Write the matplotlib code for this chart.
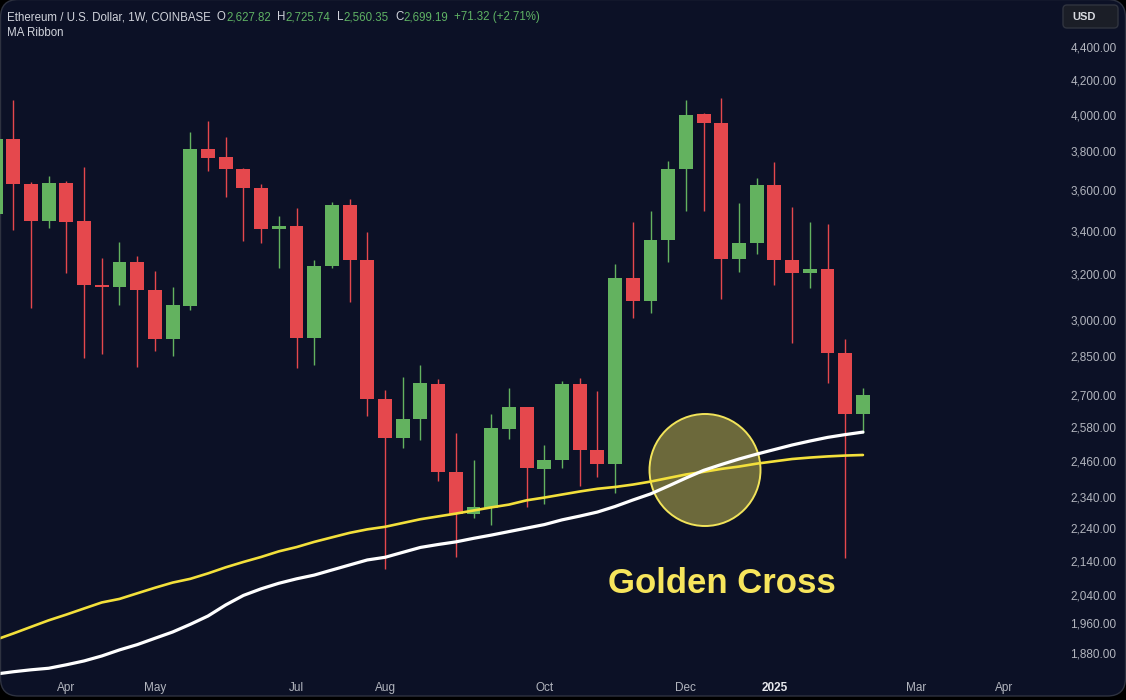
import datetime as dt
import matplotlib
matplotlib.use("Agg")
import matplotlib.pyplot as plt
import matplotlib.dates as mdates
from matplotlib.patches import FancyBboxPatch, Ellipse
from matplotlib.ticker import FixedLocator, NullLocator, NullFormatter
from matplotlib.transforms import IdentityTransform

# weekly ETH/USD candles, first week starts 2024-03-04
first_week = dt.date(2024, 3, 4)
week_open = [3481, 3868, 3632, 3445, 3637, 3445, 3150, 3140, 3256, 3128,
             2919, 3061, 3812, 3768, 3707, 3612, 3409, 3422, 2923, 3237,
             3527, 3262, 2684, 2541, 2609, 2742, 2423, 2286, 2305, 2575,
             2654, 2433, 2465, 2742, 2499, 2452, 3180, 3079, 3356, 3709,
             4003, 3953, 3270, 3342, 3625, 3261, 3206, 3224, 2865, 2627.82]
week_high = [4090, 4085, 3640, 3670, 3645, 3720, 3273, 3348, 3282, 3213,
             3143, 3905, 3966, 3878, 3712, 3630, 3470, 3512, 3262, 3539,
             3555, 3394, 2719, 2768, 2816, 2760, 2558, 2465, 2629, 2728,
             2656, 2517, 2753, 2764, 2716, 3244, 3440, 3493, 3751, 4085,
             4010, 4094, 3533, 3663, 3745, 3517, 3440, 3432, 2919, 2725.74]
week_low = [3360, 3403, 3049, 3411, 3204, 2845, 2860, 3064, 2810, 2873,
            2853, 3042, 3699, 3566, 3351, 3344, 3228, 2806, 2816, 3228,
            3076, 2622, 2116, 2505, 2535, 2394, 2151, 2271, 2250, 2538,
            2308, 2318, 2437, 2377, 2406, 2352, 3007, 3028, 3253, 3495,
            3493, 3089, 3210, 3290, 3150, 2906, 3136, 2747, 2148, 2560.35]
week_close = [3868, 3628, 3445, 3637, 3443, 3150, 3140, 3256, 3127, 2919,
              3064, 3812, 3767, 3707, 3612, 3409, 3422, 2923, 3237, 3527,
              3262, 2684, 2541, 2609, 2744, 2423, 2286, 2307, 2577, 2654,
              2436, 2465, 2742, 2499, 2452, 3180, 3079, 3356, 3709, 4000,
              3953, 3270, 3342, 3625, 3261, 3203, 3224, 2865, 2627.87, 2699.19]

# MA ribbon lines (one value per week)
ma_fast = [1825, 1831, 1836, 1840, 1849, 1859, 1872, 1888, 1902, 1919,
           1936, 1957, 1980, 2011, 2038, 2057, 2073, 2086, 2097, 2112,
           2127, 2142, 2150, 2165, 2180, 2189, 2197, 2208, 2218, 2229,
           2240, 2251, 2266, 2278, 2291, 2309, 2330, 2350, 2376, 2403,
           2429, 2449, 2468, 2485, 2501, 2517, 2531, 2544, 2554, 2563]
ma_slow = [1915, 1932, 1950, 1968, 1984, 2001, 2018, 2028, 2044, 2060,
           2075, 2086, 2102, 2120, 2136, 2151, 2168, 2181, 2197, 2211,
           2225, 2236, 2244, 2256, 2268, 2277, 2286, 2296, 2306, 2315,
           2329, 2338, 2348, 2358, 2367, 2373, 2381, 2391, 2403, 2415,
           2424, 2434, 2442, 2452, 2460, 2468, 2473, 2477, 2480, 2482]

price_ticks = [1880, 1960, 2040, 2140, 2240, 2340, 2460, 2580, 2700, 2850,
               3000, 3200, 3400, 3600, 3800, 4000, 4200, 4400]
month_ticks = ["2024-04-01", "2024-05-06", "2024-07-01", "2024-08-05", "2024-10-07",
               "2024-12-02", "2025-01-06", "2025-03-03", "2025-04-07"]
month_labels = ["Apr", "May", "Jul", "Aug", "Oct", "Dec", "2025", "Mar", "Apr"]

bg = "#0c1126"
up_col = "#63b25f"
down_col = "#e5484d"
txt_col = "#b2b5be"
W, H = 1126, 700
font = "Liberation Sans"

fig = plt.figure(figsize=(W / 100, H / 100), dpi=100, facecolor="black")
panel = FancyBboxPatch((0.5, 4), W - 1, H - 3.5, boxstyle="round,pad=0,rounding_size=18",
                       transform=IdentityTransform(), facecolor=bg, edgecolor="#2e3240",
                       lw=1, zorder=-5)
fig.add_artist(panel)

ax = fig.add_axes([0, 22 / H, 1055 / W, 678 / H])
ax.set_facecolor("none")
for s in ax.spines.values():
    s.set_visible(False)

weeks = [first_week + dt.timedelta(weeks=i) for i in range(len(week_open))]
x = mdates.date2num(weeks)
colors = [up_col if c >= o else down_col for o, c in zip(week_open, week_close)]
bottoms = [min(o, c) for o, c in zip(week_open, week_close)]
heights = [max(abs(c - o), 4) for o, c in zip(week_open, week_close)]

ax.vlines(x, week_low, week_high, colors=colors, lw=1, zorder=2)
ax.bar(x, heights, bottom=bottoms, width=5.5, color=colors, zorder=3)

# golden cross marker
circ = Ellipse((705 / 1055, (678 - 470) / 678), 111 / 1055, 112 / 678, transform=ax.transAxes,
               facecolor="#f2e45a", alpha=0.42, edgecolor="none", zorder=4)
ax.add_patch(circ)
circ_edge = Ellipse((705 / 1055, (678 - 470) / 678), 111 / 1055, 112 / 678, transform=ax.transAxes,
                    facecolor="none", edgecolor="#f2e45a", lw=1.4, zorder=4)
ax.add_patch(circ_edge)

l1, = ax.plot(x, ma_slow, color="#f3e03b", lw=1.9, zorder=5, solid_capstyle="round")
l2, = ax.plot(x, ma_fast, color="white", lw=2.3, zorder=6, solid_capstyle="round")
l1.set_clip_path(panel)
l2.set_clip_path(panel)

ax.set_yscale("log")
k0 = mdates.date2num(dt.date(2024, 3, 11))
ax.set_xlim(k0 - 0.751 * 7, k0 + 58.85 * 7)
ax.set_ylim(1815, 4700)

ax.yaxis.tick_right()
ax.yaxis.set_major_locator(FixedLocator(price_ticks))
ax.yaxis.set_minor_locator(NullLocator())
ax.yaxis.set_minor_formatter(NullFormatter())
ax.set_yticklabels([f"{p:,.2f}" for p in price_ticks])
ax.tick_params(axis="y", length=0, pad=11, labelsize=8.5, labelcolor=txt_col)
for lab in ax.get_yticklabels():
    lab.set_family(font)

ax.set_xticks(mdates.date2num([dt.date.fromisoformat(d) for d in month_ticks]))
ax.set_xticklabels(month_labels)
ax.tick_params(axis="x", length=0, pad=3, labelsize=8.5, labelcolor=txt_col)
for lab in ax.get_xticklabels():
    lab.set_family(font)
    if lab.get_text() == "2025":
        lab.set_fontweight("bold")
        lab.set_color("#e8e9ee")

# header
renderer = fig.canvas.get_renderer()
hx = 7
gray = "#d1d4dc"
green = "#5fb264"
parts = [("Ethereum / U.S. Dollar, 1W, COINBASE", gray, 6), ("O", gray, 0.5), ("2,627.82", green, 6),
         ("H", gray, 0.5), ("2,725.74", green, 6), ("L", gray, 0.5), ("2,560.35", green, 6),
         ("C", gray, 0.5), ("2,699.19", green, 6), ("+71.32 (+2.71%)", green, 0)]
for s, c, gap in parts:
    t = fig.text(hx / W, (H - 17) / H, s, color=c, fontsize=8.3, family=font, va="center", ha="left")
    hx = t.get_window_extent(renderer).x1 + gap
fig.text(7 / W, (H - 33) / H, "MA Ribbon", color=gray, fontsize=8.3, family=font, va="center", ha="left")

# currency box
usd = FancyBboxPatch((1063, H - 28), 55, 23, boxstyle="round,pad=0,rounding_size=4",
                     transform=IdentityTransform(), facecolor="#1b1e27", edgecolor="#30343f", lw=1)
fig.add_artist(usd)
fig.text(1084 / W, (H - 16.5) / H, "USD", color="#d8dae0", fontsize=8, family=font,
         fontweight="bold", va="center", ha="center")

fig.text(722 / W, (H - 593) / H, "Golden Cross", color="#f7e55c", fontsize=25, family=font,
         fontweight="bold", va="baseline", ha="center")

fig.savefig("out.png", dpi=100, facecolor="black")
